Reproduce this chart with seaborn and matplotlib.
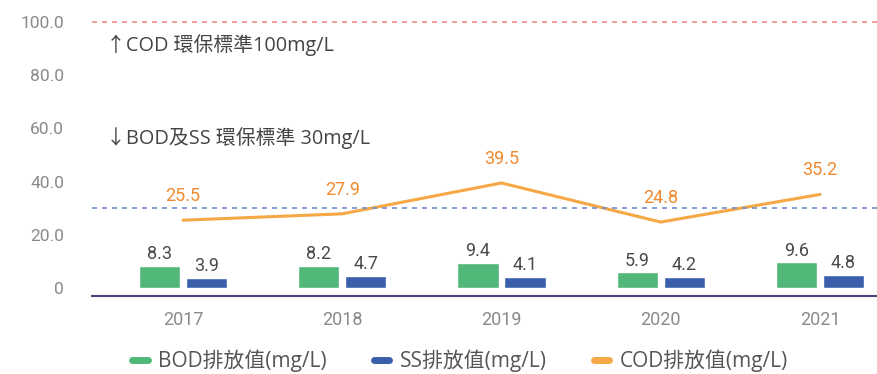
import numpy as np
import pandas as pd
import matplotlib
matplotlib.use("Agg")
import matplotlib.pyplot as plt
from matplotlib.lines import Line2D
import seaborn as sns

# Annual discharge measurements (mg/L)
years = ["2017", "2018", "2019", "2020", "2021"]
bod = [8.3, 8.2, 9.4, 5.9, 9.6]
ss = [3.9, 4.7, 4.1, 4.2, 4.8]
cod = [25.5, 27.9, 39.5, 24.8, 35.2]

# Regulatory limits (mg/L)
cod_limit = 100
bod_ss_limit = 30

yticks = [0, 20, 40, 60, 80, 100]
ytick_labels = ["0", "20.0", "40.0", "60.0", "80.0", "100.0"]

bod_name = "BOD排放值(mg/L)"
ss_name = "SS排放值(mg/L)"
cod_name = "COD排放值(mg/L)"

sns.set_theme(style="white")
plt.rcParams["font.family"] = ["Roboto", "Noto Sans CJK TC", "DejaVu Sans"]
TEXT_FAMILY = ["Open Sans", "Noto Sans CJK TC", "DejaVu Sans"]

GREEN = "#52B87A"
BLUE = "#3A5FAA"
ORANGE = "#F5A845"
ORANGE_TXT = "#F08A30"
GRAY = "#8A8A8A"
DARK = "#4A4A4A"

W, H = 877, 374
fig = plt.figure(figsize=(W / 100, H / 100), dpi=100)
ax = fig.add_axes([92 / W, 78 / H, (W - 92) / W, 296 / H])

bars = pd.DataFrame({
    "year": years * 2,
    "value": bod + ss,
    "series": [bod_name] * len(years) + [ss_name] * len(years),
})

sns.barplot(data=bars, x="year", y="value", hue="series",
            palette=[GREEN, BLUE], width=0.59, gap=0.125,
            saturation=1, legend=False, ax=ax)

for cont in ax.containers:
    ax.bar_label(cont, fmt="%.1f", padding=2, color=DARK, fontsize=13)

xpos = np.arange(len(years))
sns.lineplot(x=xpos, y=cod, color=ORANGE, linewidth=2.2, ax=ax)
for x, v in zip(xpos, cod):
    ax.annotate(f"{v:.1f}", (x, v), xytext=(0, 11), textcoords="offset points",
                ha="center", va="bottom", color=ORANGE_TXT, fontsize=13)

# Limit lines
ax.axhline(cod_limit, color="#EE8A8A", linestyle=(0, (3, 3)), linewidth=1.2)
ax.axhline(bod_ss_limit, color="#6F8FCF", linestyle=(0, (3, 3)), linewidth=1.2)

ax.text(-0.485, 91.5, f"↑COD 環保標準{cod_limit}mg/L", color="#444444",
        fontsize=14.3, va="center", ha="left", family=TEXT_FAMILY)
ax.text(-0.485, 56.5, f"↓BOD及SS 環保標準 {bod_ss_limit}mg/L", color="#444444",
        fontsize=14.3, va="center", ha="left", family=TEXT_FAMILY)

ax.set_xlim(-0.571, 4.358)
ax.set_ylim(-3.0, 108.3)
ax.set_yticks(yticks)
ax.set_yticklabels(ytick_labels)
ax.set_xticks(xpos)
ax.set_xticklabels(years)
ax.tick_params(axis="y", length=0, pad=20, labelsize=12.5, labelcolor=GRAY)
ax.tick_params(axis="x", length=0, pad=11, labelsize=13, labelcolor=GRAY)
ax.set_xlabel("")
ax.set_ylabel("")

for side in ["left", "right", "top"]:
    ax.spines[side].set_visible(False)
ax.spines["bottom"].set_color("#45457F")
ax.spines["bottom"].set_linewidth(1.5)

handles = [
    Line2D([0], [0], color=GREEN, linewidth=5, solid_capstyle="round"),
    Line2D([0], [0], color=BLUE, linewidth=5, solid_capstyle="round"),
    Line2D([0], [0], color=ORANGE, linewidth=5, solid_capstyle="round"),
]
fig.legend(handles, [bod_name, ss_name, cod_name], loc="center",
           bbox_to_anchor=(460 / W, 1 - 361 / H), ncol=3, frameon=False,
           prop={"family": TEXT_FAMILY, "size": 15}, labelcolor="#555555",
           handlelength=0.75, handletextpad=0.5, columnspacing=2.25)

fig.savefig("out.png", dpi=100)
